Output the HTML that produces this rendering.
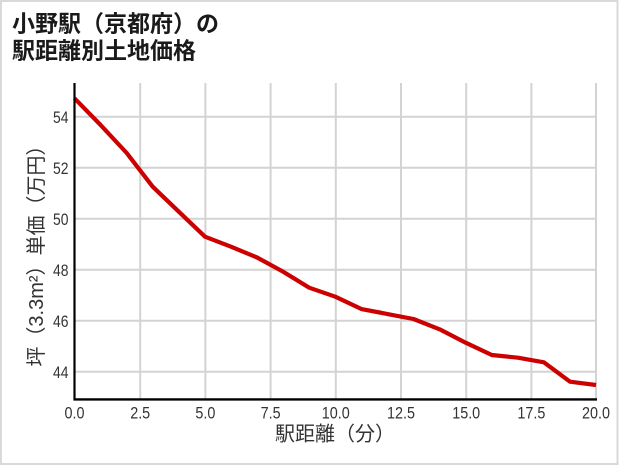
<!DOCTYPE html>
<html>
<head>
<meta charset="utf-8">
<style>
html,body{margin:0;padding:0;background:#fff;}
svg{display:block;}
</style>
</head>
<body>
<svg width="621" height="465" viewBox="0 0 621 465" xmlns="http://www.w3.org/2000/svg">
  <rect x="0" y="0" width="621" height="465" fill="#fff"/>
  <!-- outer border -->
  <rect x="1" y="1" width="616.5" height="463" fill="none" stroke="#d9d9d9" stroke-width="2"/>

  <!-- title -->
  <g font-family="'Liberation Sans','Noto Sans CJK JP',sans-serif" font-weight="bold" font-size="23" fill="#1a1a1a">
    <text x="12" y="31.5">小野駅（京都府）の</text>
    <text x="12" y="58.5">駅距離別土地価格</text>
  </g>

  <!-- grid -->
  <g stroke="#d3d3d3" stroke-width="2">
    <line x1="140.2" y1="83" x2="140.2" y2="399"/>
    <line x1="205.4" y1="83" x2="205.4" y2="399"/>
    <line x1="270.6" y1="83" x2="270.6" y2="399"/>
    <line x1="335.8" y1="83" x2="335.8" y2="399"/>
    <line x1="401" y1="83" x2="401" y2="399"/>
    <line x1="466.2" y1="83" x2="466.2" y2="399"/>
    <line x1="531.4" y1="83" x2="531.4" y2="399"/>
    <line x1="596" y1="83" x2="596" y2="399"/>
    <line x1="75" y1="116.7" x2="596" y2="116.7"/>
    <line x1="75" y1="167.7" x2="596" y2="167.7"/>
    <line x1="75" y1="218.7" x2="596" y2="218.7"/>
    <line x1="75" y1="269.7" x2="596" y2="269.7"/>
    <line x1="75" y1="320.7" x2="596" y2="320.7"/>
    <line x1="75" y1="371.7" x2="596" y2="371.7"/>
  </g>

  <!-- data line -->
  <polyline fill="none" stroke="#cc0000" stroke-width="4.2" stroke-linejoin="round"
    points="74.5,98.3 100.6,125 126.7,153 152.7,186.7 178.8,211.7 205,236.7 231,246.7 257.1,257.5 283.1,271.7 309.2,287.7 335.3,296.7 361.4,309 387.5,314 413.5,319 439.6,329.3 465.7,342.7 491.8,355 517.9,357.7 543.9,362.3 570,381.7 596,385"/>

  <!-- axes -->
  <line x1="74.5" y1="83" x2="74.5" y2="400.5" stroke="#000" stroke-width="2.2"/>
  <line x1="73.5" y1="399.4" x2="597" y2="399.4" stroke="#000" stroke-width="2.4"/>

  <!-- y tick labels -->
  <g font-family="'Liberation Sans',sans-serif" font-size="17" fill="#333" text-anchor="end">
    <text x="68.5" y="123" textLength="15.5" lengthAdjust="spacingAndGlyphs">54</text>
    <text x="68.5" y="174" textLength="15.5" lengthAdjust="spacingAndGlyphs">52</text>
    <text x="68.5" y="225" textLength="15.5" lengthAdjust="spacingAndGlyphs">50</text>
    <text x="68.5" y="276" textLength="15.5" lengthAdjust="spacingAndGlyphs">48</text>
    <text x="68.5" y="327" textLength="15.5" lengthAdjust="spacingAndGlyphs">46</text>
    <text x="68.5" y="378" textLength="15.5" lengthAdjust="spacingAndGlyphs">44</text>
  </g>

  <!-- x tick labels -->
  <g font-family="'Liberation Sans',sans-serif" font-size="17" fill="#333">
    <text x="64.5" y="418.5" textLength="20" lengthAdjust="spacingAndGlyphs">0.0</text>
    <text x="130.2" y="418.5" textLength="20" lengthAdjust="spacingAndGlyphs">2.5</text>
    <text x="195.4" y="418.5" textLength="20" lengthAdjust="spacingAndGlyphs">5.0</text>
    <text x="260.6" y="418.5" textLength="20" lengthAdjust="spacingAndGlyphs">7.5</text>
    <text x="321.8" y="418.5" textLength="28" lengthAdjust="spacingAndGlyphs">10.0</text>
    <text x="387" y="418.5" textLength="28" lengthAdjust="spacingAndGlyphs">12.5</text>
    <text x="452.2" y="418.5" textLength="28" lengthAdjust="spacingAndGlyphs">15.0</text>
    <text x="517.4" y="418.5" textLength="28" lengthAdjust="spacingAndGlyphs">17.5</text>
    <text x="582" y="418.5" textLength="28" lengthAdjust="spacingAndGlyphs">20.0</text>
  </g>

  <!-- axis titles -->
  <text x="335" y="440.5" text-anchor="middle" font-family="'Liberation Sans','Noto Sans CJK JP',sans-serif" font-size="20" fill="#333">駅距離（分）</text>
  <text transform="translate(43,251) rotate(-90)" x="0" y="0" text-anchor="middle" font-family="'Liberation Sans','Noto Sans CJK JP',sans-serif" font-size="20" fill="#333">坪（3.3m²）単価（万円）</text>
</svg>
</body>
</html>
